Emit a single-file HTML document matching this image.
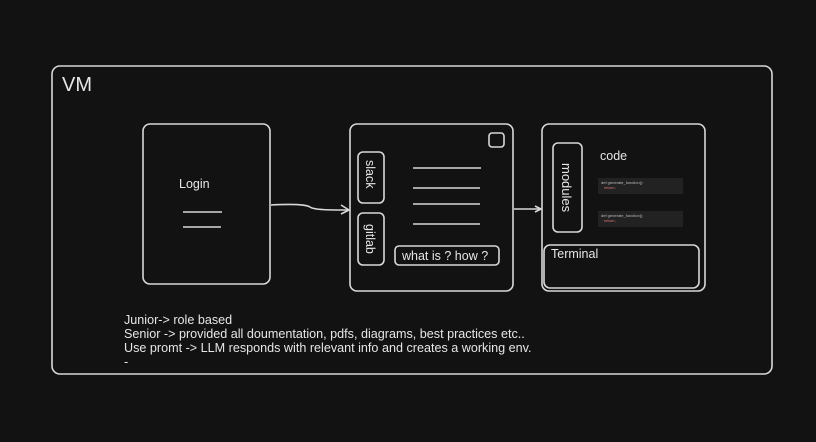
<!DOCTYPE html>
<html><head><style>
html,body{margin:0;padding:0;background:#121212;}
svg{display:block}
text{font-family:"Liberation Sans",sans-serif;fill:#e6e6e6}
</style></head><body>
<svg width="816" height="442" viewBox="0 0 816 442">
<rect width="816" height="442" fill="#121212"/>
<g fill="none" stroke="#d8d8d8" stroke-width="1.6">
<rect x="52" y="66" width="720" height="308" rx="8"/>
<rect x="143" y="124" width="127" height="160" rx="7"/>
<rect x="350" y="124" width="163" height="167" rx="7"/>
<rect x="542" y="124" width="163" height="167" rx="7"/>
<rect x="489" y="133" width="15" height="14" rx="3"/>
<rect x="358" y="152" width="26" height="51" rx="5"/>
<rect x="358" y="213" width="26" height="52" rx="5"/>
<rect x="395" y="246" width="104" height="19" rx="4"/>
<rect x="553" y="143" width="29" height="89" rx="5"/>
<rect x="544" y="245" width="155" height="43" rx="6"/>
<path d="M183 212H222M183 227H221"/>
<path d="M413 168H481M413 188H480M413 204H480M413 224H480"/>
<path d="M271 205 C290 204,305 204,310 207 C314 210,330 210,348 210"/>
<path d="M341 205L349 210L341 214"/>
<path d="M514 209H541"/>
<path d="M535 206L541 209L535 212"/>
</g>
<rect x="598" y="178" width="85" height="16" fill="#222"/>
<rect x="598" y="211" width="85" height="16" fill="#222"/>
<text x="601" y="184" font-size="4" style="fill:#bbb">def generate_function():</text>
<text x="604" y="189" font-size="4" style="fill:#d77">return;</text>
<text x="601" y="217" font-size="4" style="fill:#bbb">def generate_function():</text>
<text x="604" y="222" font-size="4" style="fill:#d77">return;</text>
<text x="62" y="91" font-size="20">VM</text>
<text x="179" y="188" font-size="12.5">Login</text>
<text x="600" y="160" font-size="12.5">code</text>
<text x="551" y="258" font-size="12.5">Terminal</text>
<text x="402" y="260" font-size="12.5">what is ? how ?</text>
<text transform="translate(366,160) rotate(90)" font-size="12.5">slack</text>
<text transform="translate(366,224) rotate(90)" font-size="12.5">gitlab</text>
<text transform="translate(562,163) rotate(90)" font-size="13">modules</text>
<text font-size="12.6"><tspan x="124" y="324">Junior-&gt; role based</tspan><tspan x="124" y="338">Senior -&gt; provided all doumentation, pdfs, diagrams, best practices etc..</tspan><tspan x="124" y="352">Use promt -&gt; LLM responds with relevant info and creates a working env.</tspan><tspan x="124" y="366">-</tspan></text>
</svg>
</body></html>
